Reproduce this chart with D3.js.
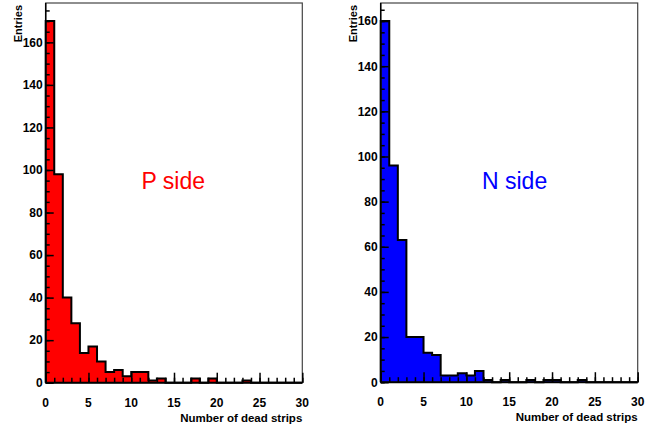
<!DOCTYPE html>
<html>
<head>
<meta charset="utf-8">
<script src="https://cdn.jsdelivr.net/npm/d3@7"></script>
<style>
  body { margin: 0; background: #fff; }
  svg { display: block; font-family: "Liberation Sans", Arial, sans-serif; }
</style>
</head>
<body>
<svg></svg>
<script>
const width = 659, height = 430;

// histogram bins: 0..29, one unit wide
const binEdges = d3.range(0, 31);
const pSide = [170, 98, 40, 28, 14, 17, 10, 5, 6, 3, 5, 5, 1, 2, 0, 0, 0, 2, 0, 2, 0, 0, 0, 1, 0, 0, 0, 0, 0, 0];
const nSide = [160, 96, 63, 20, 20, 13, 12, 3, 3, 4, 3, 5, 1, 0, 1, 0, 0, 1, 0, 1, 1, 0, 0, 1, 0, 0, 0, 0, 0, 0];
const xTicks = [0, 5, 10, 15, 20, 25, 30];
const yTicks = [0, 20, 40, 60, 80, 100, 120, 140, 160];

const svg = d3.select("svg").attr("width", width).attr("height", height);

function drawPanel(opts) {
    const g = svg.append("g");
    const x = d3.scaleLinear().domain([0, 30]).range([opts.left, opts.right]);
    const y = d3.scaleLinear().domain([0, d3.max(opts.values) * 1.05]).range([opts.bottom, opts.top]);

    // step outline of the histogram
    const pts = [[0, 0]];
    opts.values.forEach((v, i) => {
        pts.push([binEdges[i], v]);
        pts.push([binEdges[i + 1], v]);
    });
    pts.push([30, 0]);

    g.append("path")
        .attr("d", d3.line().x(d => x(d[0])).y(d => y(d[1]))(pts))
        .attr("fill", opts.color)
        .attr("stroke", "#000")
        .attr("stroke-width", 2)
        .attr("stroke-linejoin", "miter");

    // frame
    g.append("rect")
        .attr("x", opts.left).attr("y", opts.top)
        .attr("width", opts.right - opts.left).attr("height", opts.bottom - opts.top)
        .attr("fill", "none").attr("stroke", "#444").attr("stroke-width", 1.2);

    // x axis: ticks point up into the frame
    const xAxis = d3.axisTop(x).tickValues(xTicks).tickSize(10).tickFormat("");
    g.append("g").attr("transform", `translate(0,${opts.bottom})`).call(xAxis)
        .call(s => s.select(".domain").remove());
    g.append("g").attr("transform", `translate(0,${opts.bottom})`)
        .call(d3.axisTop(x).tickValues(d3.range(0, 31)).tickSize(5).tickFormat(""))
        .call(s => s.select(".domain").remove());
    g.selectAll(".tick line").attr("stroke", "#000").attr("stroke-width", 1.5);

    g.selectAll(".xlab").data(xTicks).enter().append("text")
        .attr("x", d => x(d)).attr("y", opts.bottom + 24)
        .attr("text-anchor", "middle")
        .attr("font-size", 12).attr("font-weight", "bold")
        .text(d => d);

    // y axis: ticks point right into the frame
    const yg = g.append("g").attr("transform", `translate(${opts.left},0)`);
    yg.call(d3.axisRight(y).tickValues(yTicks).tickSize(8).tickFormat(""));
    yg.append("g").call(d3.axisRight(y).tickValues(d3.range(0, y.domain()[1], 5)).tickSize(4).tickFormat(""));
    yg.selectAll(".domain").remove();
    yg.selectAll(".tick line").attr("stroke", "#000").attr("stroke-width", 1.5);

    g.selectAll(".ylab").data(yTicks).enter().append("text")
        .attr("x", opts.left - 3).attr("y", d => y(d))
        .attr("dy", "0.36em")
        .attr("text-anchor", "end")
        .attr("font-size", 12).attr("font-weight", "bold")
        .text(d => d);

    // axis lines
    g.append("line").attr("x1", opts.left).attr("x2", opts.right)
        .attr("y1", opts.bottom).attr("y2", opts.bottom)
        .attr("stroke", "#000").attr("stroke-width", 2);
    g.append("line").attr("x1", opts.left).attr("x2", opts.left)
        .attr("y1", opts.top).attr("y2", opts.bottom)
        .attr("stroke", "#000").attr("stroke-width", 1.5);

    // titles
    g.append("text")
        .attr("x", opts.right).attr("y", opts.bottom + 39)
        .attr("text-anchor", "end")
        .attr("font-size", 11.5).attr("font-weight", "bold")
        .text("Number of dead strips");

    g.append("text")
        .attr("transform", `translate(${opts.left - 24},${opts.top + 2}) rotate(-90)`)
        .attr("text-anchor", "end")
        .attr("font-size", 11).attr("font-weight", "bold")
        .text("Entries");

    g.append("text")
        .attr("x", opts.labelX).attr("y", 189)
        .attr("font-size", 23)
        .attr("fill", opts.color)
        .text(opts.label);
}

drawPanel({ values: pSide, color: "#ff0000", label: "P side", labelX: 141.5,
            left: 45.7, right: 302.3, top: 3, bottom: 382.7 });
drawPanel({ values: nSide, color: "#0000ff", label: "N side", labelX: 482,
            left: 380.7, right: 637.7, top: 3, bottom: 382.2 });
</script>
</body>
</html>
